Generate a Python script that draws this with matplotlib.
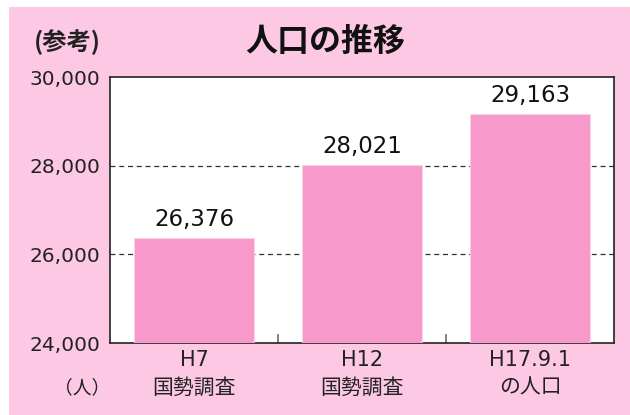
import matplotlib.pyplot as plt
import numpy as np
from matplotlib.patches import Rectangle

plt.rcParams['font.family'] = ['DejaVu Sans', 'Noto Sans CJK JP']

# data
categories = ['H7', 'H12', 'H17.9.1']
sublabels = ['国勢調査', '国勢調査', 'の人口']
population = [26376, 28021, 29163]
yticks = [24000, 26000, 28000, 30000]

bg_pink = '#fcc8e3'
bar_pink = '#f799ca'

W, H = 630, 415
fig = plt.figure(figsize=(W / 100, H / 100), dpi=100, facecolor='white')
# pink panel, white margin on top/left only
fig.patches.append(Rectangle((9 / W, 0), 1 - 9 / W, 1 - 7 / H,
                             transform=fig.transFigure, facecolor=bg_pink,
                             edgecolor='none', zorder=-10))

ax = fig.add_axes([110 / W, 1 - 343 / H, (614 - 110) / W, (343 - 77) / H])
ax.set_facecolor('white')

x = np.arange(len(categories))
ax.bar(x, population, width=0.72, color=bar_pink, edgecolor='#fbd3e7',
       linewidth=0.6, zorder=3)
for xi, v in zip(x, population):
    ax.text(xi, v + 150, f'{v:,}', ha='center', va='bottom', fontsize=16.5,
            color='#111111', zorder=4)

ax.set_xlim(-0.5, len(categories) - 0.5)
ax.set_ylim(24000, 30000)
ax.set_yticks(yticks)
ax.set_yticklabels([f'{t:,}' for t in yticks], fontsize=14.5, color='#222222')
ax.tick_params(axis='y', length=0, pad=7)

for t in [26000, 28000]:
    ax.axhline(t, color='#333333', linestyle=(0, (4, 3)), linewidth=0.9, zorder=1)

# small separator ticks at category boundaries
ax.set_xticks([])
for b in [0.5, 1.5]:
    ax.plot([b, b], [24000, 24000 + 6000 * 8 / 266], color='#777777',
            linewidth=1.3, zorder=2)

for s in ax.spines.values():
    s.set_color('#222222')
    s.set_linewidth(1.2)

tr = ax.get_xaxis_transform()
for xi, lab, sub in zip(x, categories, sublabels):
    ax.text(xi, -17 / 266, lab, transform=tr, ha='center', va='center',
            fontsize=15, color='#222222')
    ax.text(xi, -45 / 266, sub, transform=tr, ha='center', va='center',
            fontsize=15, color='#222222')

fig.text(82 / W, 1 - 388 / H, '（人）', ha='center', va='center', fontsize=13.5,
         color='#222222', family=['Noto Sans CJK JP'])
fig.text(67 / W, 1 - 42 / H, '(参考)', ha='center', va='center', fontsize=17.5,
         fontweight='bold', color='#222222', family=['Noto Sans CJK JP'])
fig.text(325 / W, 1 - 42 / H, '人口の推移', ha='center', va='center', fontsize=23,
         fontweight='bold', color='#111111', family=['Noto Sans CJK JP'])

fig.savefig('out.png', dpi=100, facecolor=fig.get_facecolor())
